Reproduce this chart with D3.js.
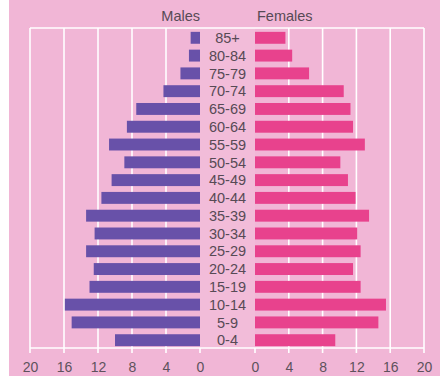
<!DOCTYPE html>
<html>
<head>
<meta charset="utf-8">
<script src="https://cdn.jsdelivr.net/npm/d3@7"></script>
<style>
  html, body { margin: 0; padding: 0; background: #ffffff; }
  svg { display: block; }
  text { font-family: "Liberation Sans", Arial, sans-serif; }
</style>
</head>
<body>
<svg id="chart" width="443" height="376"></svg>
<script>
const ageGroups = ["85+","80-84","75-79","70-74","65-69","60-64","55-59","50-54","45-49","40-44","35-39","30-34","25-29","20-24","15-19","10-14","5-9","0-4"];
const males   = [1.1, 1.3, 2.3, 4.3, 7.5, 8.6, 10.7, 8.9, 10.4, 11.6, 13.4, 12.4, 13.4, 12.5, 13.0, 15.9, 15.1, 10.0];
const females = [3.6, 4.4, 6.4, 10.5, 11.3, 11.6, 13.0, 10.1, 11.0, 11.9, 13.5, 12.1, 12.5, 11.6, 12.5, 15.5, 14.6, 9.5];
const tickValues = [0, 4, 8, 12, 16, 20];
const seriesNames = ["Males", "Females"];

(function () {
const svg = d3.select("#chart");
const W = 443, H = 376;
const plotTop = 28, plotBottom = 348;

const xL = d3.scaleLinear().domain([0, 20]).range([200, 30]);
const xR = d3.scaleLinear().domain([0, 20]).range([255, 424]);
const y = d3.scaleBand().domain(ageGroups).range([29, 349]).paddingInner(0.33).paddingOuter(0.16);

// background
svg.append("rect").attr("x", 9).attr("y", 0).attr("width", 431).attr("height", H).attr("fill", "#f1b6d6");
svg.append("rect").attr("x", xL(0)).attr("y", plotTop).attr("width", xR(0) - xL(0)).attr("height", plotBottom - plotTop).attr("fill", "#f2bcd9");

// gridlines
const grid = svg.append("g").attr("stroke", "#ffffff").attr("stroke-width", 1.6);
[xL, xR].forEach(sc => {
  tickValues.forEach(v => {
    grid.append("line")
      .attr("x1", sc(v)).attr("x2", sc(v))
      .attr("y1", v === 0 ? plotBottom : plotTop)
      .attr("y2", plotBottom + 5);
  });
});
grid.append("line").attr("x1", xL(20)).attr("x2", xR(20)).attr("y1", plotTop).attr("y2", plotTop);
grid.append("line").attr("x1", xL(20)).attr("x2", xR(20)).attr("y1", plotBottom).attr("y2", plotBottom);

// bars
svg.append("g").selectAll("rect").data(ageGroups).join("rect")
  .attr("x", (d, i) => xL(males[i]))
  .attr("y", d => y(d))
  .attr("width", (d, i) => xL(0) - xL(males[i]))
  .attr("height", y.bandwidth())
  .attr("fill", "#6851a9");

svg.append("g").selectAll("rect").data(ageGroups).join("rect")
  .attr("x", xR(0))
  .attr("y", d => y(d))
  .attr("width", (d, i) => xR(females[i]) - xR(0))
  .attr("height", y.bandwidth())
  .attr("fill", "#e8428d");

// age labels
svg.append("g").selectAll("text").data(ageGroups).join("text")
  .attr("x", (xL(0) + xR(0)) / 2)
  .attr("y", d => y(d) + y.bandwidth() / 2)
  .attr("dy", "0.36em")
  .attr("text-anchor", "middle")
  .attr("font-size", "14.5px")
  .attr("fill", "#574a55")
  .text(d => d);

// titles
svg.append("text").attr("x", xL(0)).attr("y", 21).attr("text-anchor", "end")
  .attr("font-size", "14.5px").attr("fill", "#574a55").text(seriesNames[0]);
svg.append("text").attr("x", xR(0) + 2).attr("y", 21).attr("text-anchor", "start")
  .attr("font-size", "14.5px").attr("fill", "#574a55").text(seriesNames[1]);

// axes (labels)
function styleAxis(g) {
  g.select(".domain").remove();
  g.selectAll(".tick line").remove();
  g.selectAll(".tick text").attr("font-size", "14px").attr("fill", "#5e525c")
    .attr("font-family", "Liberation Sans, Arial, sans-serif");
}
svg.append("g").attr("transform", `translate(0,${plotBottom + 4})`)
  .call(d3.axisBottom(xL).tickValues(tickValues).tickSize(0).tickPadding(10)).call(styleAxis);
svg.append("g").attr("transform", `translate(0,${plotBottom + 4})`)
  .call(d3.axisBottom(xR).tickValues(tickValues).tickSize(0).tickPadding(10)).call(styleAxis);
})();
</script>
</body>
</html>
